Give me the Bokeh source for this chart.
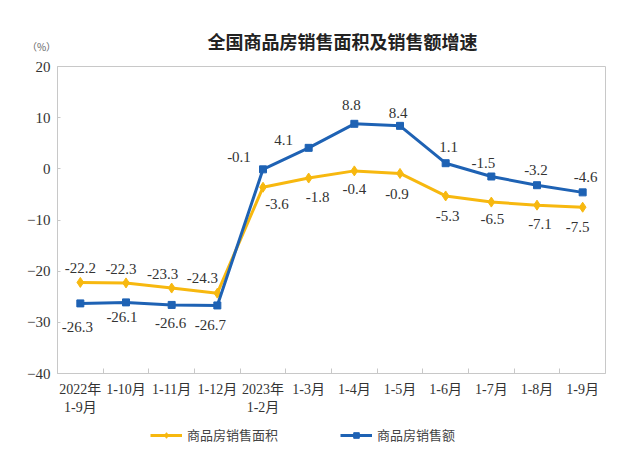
from bokeh.plotting import figure
from bokeh.layouts import column
from bokeh.models import (ColumnDataSource, FixedTicker, Range1d, Legend, LegendItem,
                          LabelSet, Label)
from bokeh.embed import file_html
from bokeh.resources import INLINE

# ---- data ----
categories = ["2022年\n1-9月", "1-10月", "1-11月", "1-12月", "2023年\n1-2月", "1-3月",
              "1-4月", "1-5月", "1-6月", "1-7月", "1-8月", "1-9月"]
area_growth = [-22.2, -22.3, -23.3, -24.3, -3.6, -1.8, -0.4, -0.9, -5.3, -6.5, -7.1, -7.5]
sales_growth = [-26.3, -26.1, -26.6, -26.7, -0.1, 4.1, 8.8, 8.4, 1.1, -1.5, -3.2, -4.6]
series_names = ["商品房销售面积", "商品房销售额"]
y_ticks = [-40, -30, -20, -10, 0, 10, 20]
title_text = "全国商品房销售面积及销售额增速"
unit_text = "（%）"

# ---- label offsets (styling, px; dy positive = up) ----
area_dx = [0, -5, -9, -15, 14, 9, 0, -3, 2, 1, 3, -5]
area_dy = [14, 14, 14, 15, -17, -19, -18, -21, -20, -17, -19, -20]
sales_dx = [-3, -4, -1, -7, -24, -25, -3, -2, 3, -8, -1, 3]
sales_dy = [-24, -15, -18, -20, 12, 8, 19, 13, 16, 14, 15, 15]

YELLOW = "#F7B80F"
BLUE = "#1E62B4"
GRID = "#C8C8C8"
SERIF = "Liberation Serif, Noto Sans CJK SC"
CJK = "Noto Sans CJK SC"
W = 632
TOP_H = 56

n = len(categories)
xs = list(range(n))

src = ColumnDataSource(dict(
    x=xs, area=area_growth, sales=sales_growth,
    area_txt=[f"{v:.1f}" for v in area_growth],
    sales_txt=[f"{v:.1f}" for v in sales_growth],
    adx=area_dx, ady=area_dy, sdx=sales_dx, sdy=sales_dy,
))


def blank(height, y_top_down=False):
    f = figure(width=W, height=height, output_backend="svg", toolbar_location=None,
               x_range=Range1d(0, W),
               y_range=Range1d(height, 0) if y_top_down else Range1d(0, height),
               x_axis_location=None, y_axis_location=None,
               min_border=0, min_border_left=0, min_border_right=0,
               min_border_top=0, min_border_bottom=0, frame_align=False)
    f.grid.visible = False
    f.outline_line_color = None
    return f


# ---- top strip: title and unit ----
top = blank(TOP_H, y_top_down=True)
top.add_layout(Label(x=342, y=40, text=title_text, text_align="center", text_baseline="middle",
                     text_font=CJK, text_font_size="18px", text_font_style="bold",
                     text_color="#222222"))
top.add_layout(Label(x=41, y=46, text=unit_text, text_align="center", text_baseline="middle",
                     text_font=CJK, text_font_size="10px", text_color="#666666"))

# ---- main chart ----
p = figure(width=W, height=365, output_backend="svg", toolbar_location=None,
           x_range=Range1d(-0.5, n - 0.5), y_range=Range1d(-40, 20),
           min_border_left=57, min_border_right=W - 605, min_border_top=66 - TOP_H,
           min_border_bottom=48, frame_align=False,
           background_fill_color="white", border_fill_color="white")

p.outline_line_color = GRID
p.outline_line_width = 1
p.xgrid.visible = False
p.ygrid.visible = False

p.yaxis.ticker = FixedTicker(ticks=y_ticks)
p.yaxis.axis_line_color = GRID
p.yaxis.major_tick_in = 3
p.yaxis.major_tick_out = 0
p.yaxis.major_tick_line_color = GRID
p.yaxis.minor_tick_line_color = None
p.yaxis.major_label_text_font = SERIF
p.yaxis.major_label_text_font_size = "15px"
p.yaxis.major_label_text_color = "#333333"
p.yaxis.major_label_standoff = 7

p.xaxis.ticker = FixedTicker(ticks=xs, minor_ticks=[i + 0.5 for i in range(n - 1)])
p.xaxis.major_label_overrides = {i: c for i, c in enumerate(categories)}
p.xaxis.axis_line_color = GRID
p.xaxis.major_tick_line_color = None
p.xaxis.minor_tick_in = 5
p.xaxis.minor_tick_out = 0
p.xaxis.minor_tick_line_color = GRID
p.xaxis.major_label_text_font = SERIF
p.xaxis.major_label_text_font_size = "14px"
p.xaxis.major_label_text_color = "#333333"
p.xaxis.major_label_standoff = 2

line_a = dict(line_color=YELLOW, line_width=3)
mark_a = dict(marker="diamond", size=10, fill_color=YELLOW, line_color=YELLOW)
line_s = dict(line_color=BLUE, line_width=3)
mark_s = dict(marker="square", size=7, fill_color=BLUE, line_color=BLUE)

p.line("x", "area", source=src, **line_a)
p.scatter("x", "area", source=src, **mark_a)
p.line("x", "sales", source=src, **line_s)
p.scatter("x", "sales", source=src, **mark_s)

for txt, y, dx, dy in [("area_txt", "area", "adx", "ady"), ("sales_txt", "sales", "sdx", "sdy")]:
    p.add_layout(LabelSet(x="x", y=y, text=txt, source=src, x_offset=dx, y_offset=dy,
                          text_align="center", text_baseline="middle",
                          text_font=SERIF, text_font_size="15px", text_color="#333333"))

# ---- bottom strip: legend (proxy renderers hold no visible data) ----
bot = blank(40)
nan = float("nan")
proxy = ColumnDataSource(dict(x=[nan], y=[nan]))
la = bot.line("x", "y", source=proxy, **line_a)
ma = bot.scatter("x", "y", source=proxy, **mark_a)
ls_ = bot.line("x", "y", source=proxy, **line_s)
ms = bot.scatter("x", "y", source=proxy, **mark_s)
legend = Legend(items=[LegendItem(label=series_names[0], renderers=[la, ma]),
                       LegendItem(label=series_names[1], renderers=[ls_, ms])],
                orientation="horizontal", location=(150, 17), spacing=62,
                glyph_width=32, glyph_height=14, label_standoff=5, padding=0, margin=0,
                border_line_color=None, background_fill_alpha=0,
                label_text_font=CJK, label_text_font_size="13px",
                label_text_color="#444444")
bot.add_layout(legend)

layout = column(top, p, bot, spacing=0)
open("out.html", "w").write(file_html(layout, INLINE))
